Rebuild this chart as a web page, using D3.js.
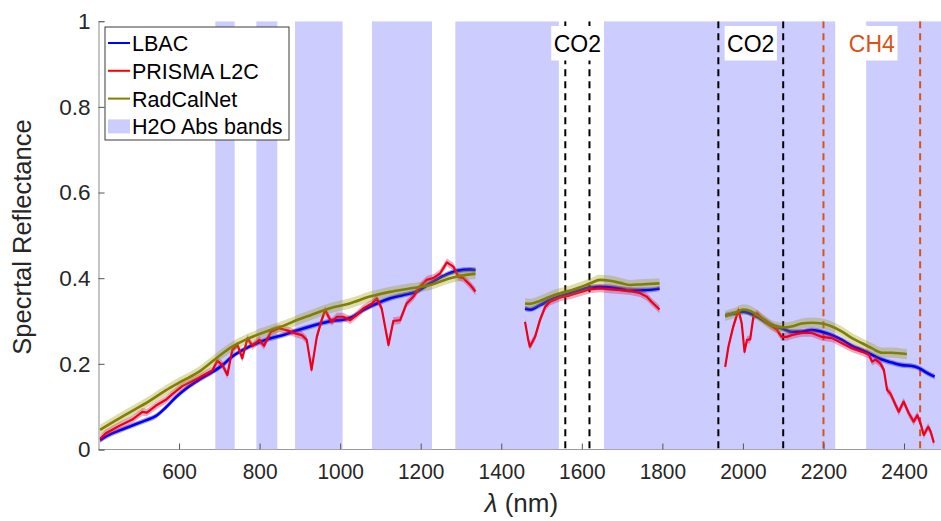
<!DOCTYPE html>
<html>
<head>
<meta charset="utf-8">
<script src="https://cdn.jsdelivr.net/npm/d3@7"></script>
<style>
  html, body { margin: 0; padding: 0; background: #fff; }
  svg { display: block; font-family: "Liberation Sans", Arial, sans-serif; }
</style>
</head>
<body>
<svg id="chart" width="941" height="521"></svg>
<script>
// ---- data -------------------------------------------------------------
// Water-vapour absorption windows [start nm, end nm]
const h2oBands = [[690, 738], [792, 844], [888, 1006], [1079, 1228], [1286, 1543], [1655, 2229], [2306, 2500]];
// Gas absorption markers (pairs of dashed lines) with their labels
const gasLines = [
  { label: "CO2", lo: 1559, hi: 1619, color: "#000000" },
  { label: "CO2", lo: 1939, hi: 2100, color: "#000000" },
  { label: "CH4", lo: 2200, hi: 2440, color: "#D95319" }
];
const xTicks = [600, 800, 1000, 1200, 1400, 1600, 1800, 2000, 2200, 2400];
const yTicks = [0, 0.2, 0.4, 0.6, 0.8, 1];

// LBAC reflectance, three spectral segments [nm, reflectance]
const lbacSeg1 = [[404,0.022],[426,0.034],[451,0.044],[484,0.056],[517,0.068],[542,0.078],[567,0.098],[592,0.122],[617,0.142],[650,0.163],[683,0.181],[708,0.197],[732,0.217],[774,0.240],[815,0.256],[857,0.267],[890,0.277],[925,0.287],[959,0.296],[983,0.301],[1008,0.303],[1033,0.311],[1058,0.326],[1091,0.341],[1124,0.353],[1157,0.361],[1190,0.369],[1223,0.388],[1256,0.405],[1290,0.417],[1323,0.420],[1336,0.419]];
const lbacSeg2 = [[1459,0.329],[1471,0.327],[1496,0.337],[1521,0.349],[1546,0.358],[1571,0.365],[1596,0.372],[1621,0.379],[1645,0.380],[1670,0.379],[1695,0.376],[1720,0.372],[1753,0.372],[1793,0.376]];
const lbacSeg3 = [[1956,0.313],[1980,0.318],[2001,0.322],[2022,0.316],[2047,0.304],[2072,0.290],[2096,0.283],[2121,0.275],[2146,0.275],[2171,0.279],[2196,0.275],[2221,0.267],[2246,0.256],[2271,0.242],[2296,0.232],[2321,0.221],[2345,0.210],[2370,0.203],[2395,0.197],[2420,0.195],[2437,0.190],[2457,0.179],[2476,0.170]];

// PRISMA L2C reflectance
const prismaSeg1 = [[404,0.025],[418,0.038],[451,0.055],[484,0.070],[509,0.088],[520,0.086],[542,0.102],[567,0.116],[584,0.130],[608,0.148],[650,0.168],[683,0.185],[695,0.207],[708,0.197],[720,0.174],[732,0.232],[745,0.244],[757,0.213],[770,0.260],[782,0.242],[799,0.256],[811,0.242],[828,0.275],[848,0.283],[873,0.277],[888,0.271],[905,0.267],[917,0.256],[929,0.186],[942,0.263],[954,0.302],[963,0.326],[971,0.310],[979,0.298],[992,0.310],[1008,0.310],[1025,0.302],[1041,0.314],[1058,0.330],[1079,0.341],[1091,0.353],[1103,0.330],[1120,0.244],[1132,0.300],[1149,0.302],[1165,0.341],[1182,0.357],[1198,0.380],[1215,0.396],[1231,0.400],[1248,0.411],[1265,0.437],[1281,0.427],[1294,0.403],[1306,0.400],[1323,0.384],[1336,0.369]];
const prismaSeg2 = [[1459,0.298],[1467,0.256],[1471,0.240],[1484,0.263],[1496,0.302],[1509,0.333],[1521,0.345],[1546,0.355],[1571,0.360],[1596,0.367],[1621,0.374],[1645,0.376],[1670,0.374],[1695,0.372],[1720,0.370],[1745,0.365],[1761,0.357],[1773,0.345],[1793,0.327]];
const prismaSeg3 = [[1956,0.193],[1964,0.240],[1976,0.287],[1989,0.326],[1997,0.295],[2004,0.228],[2010,0.256],[2018,0.257],[2026,0.310],[2035,0.318],[2047,0.306],[2059,0.298],[2072,0.288],[2084,0.280],[2096,0.263],[2109,0.263],[2121,0.267],[2146,0.272],[2171,0.272],[2196,0.263],[2221,0.260],[2246,0.248],[2271,0.236],[2296,0.228],[2313,0.221],[2321,0.205],[2329,0.210],[2341,0.201],[2350,0.186],[2358,0.139],[2366,0.131],[2379,0.104],[2387,0.088],[2399,0.112],[2412,0.084],[2424,0.065],[2433,0.080],[2441,0.061],[2449,0.034],[2460,0.053],[2466,0.042],[2474,0.016]];

// RadCalNet reflectance
const radcalSeg1 = [[404,0.046],[443,0.068],[484,0.090],[526,0.113],[567,0.138],[608,0.160],[650,0.182],[691,0.212],[732,0.240],[774,0.260],[815,0.275],[857,0.288],[898,0.304],[925,0.313],[975,0.330],[1024,0.341],[1074,0.357],[1124,0.368],[1173,0.376],[1223,0.384],[1273,0.400],[1306,0.407],[1336,0.410]];
const radcalSeg2 = [[1459,0.341],[1471,0.340],[1496,0.347],[1521,0.357],[1546,0.365],[1571,0.371],[1596,0.379],[1621,0.388],[1645,0.396],[1670,0.394],[1695,0.389],[1720,0.384],[1753,0.386],[1793,0.388]];
const radcalSeg3 = [[1956,0.312],[1980,0.319],[2001,0.327],[2022,0.322],[2047,0.306],[2072,0.290],[2096,0.285],[2121,0.287],[2146,0.294],[2171,0.296],[2196,0.294],[2221,0.287],[2246,0.275],[2271,0.260],[2296,0.248],[2321,0.236],[2345,0.226],[2370,0.226],[2395,0.224],[2407,0.223]];

// Uncertainty half-widths (reflectance units)
const lbacUnc = 0.006, prismaUnc = 0.009, radcalUnc = 0.012;

// ---- series table (draw order: LBAC, PRISMA, RadCalNet) --------------
const series = [
  { name: "LBAC", color: "#0000ff", fill: "rgba(30,30,150,0.4)", width: 2.6, unc: lbacUnc, segs: [lbacSeg1, lbacSeg2, lbacSeg3], curve: d3.curveMonotoneX },
  { name: "PRISMA L2C", color: "#f00018", fill: "rgba(200,20,80,0.35)", width: 2.2, unc: prismaUnc, segs: [prismaSeg1, prismaSeg2, prismaSeg3], curve: d3.curveLinear },
  { name: "RadCalNet", color: "#808000", fill: "rgba(150,150,10,0.32)", width: 2.6, unc: radcalUnc, segs: [radcalSeg1, radcalSeg2, radcalSeg3], curve: d3.curveMonotoneX }
];

// ---- layout -----------------------------------------------------------
const svg = d3.select("#chart");
const plotLeft = 98.5, plotRight = 944.3, plotTop = 21.2, plotBottom = 449.5;
const x = d3.scaleLinear().domain([400, 2500]).range([plotLeft, plotRight]);
const y = d3.scaleLinear().domain([0, 1]).range([plotBottom, plotTop]);
const axisColor = "#262626";

svg.append("defs").append("clipPath").attr("id", "plotClip")
  .append("rect").attr("x", plotLeft).attr("y", plotTop)
  .attr("width", plotRight - plotLeft).attr("height", plotBottom - plotTop);

// bottom axis line sits beneath the absorption bands
svg.append("line").attr("x1", plotLeft).attr("x2", plotRight).attr("y1", plotBottom).attr("y2", plotBottom)
  .attr("stroke", "#9a9a9a").attr("stroke-width", 1);

const plot = svg.append("g").attr("clip-path", "url(#plotClip)");

// H2O absorption bands
plot.selectAll("rect.h2o").data(h2oBands).join("rect")
  .attr("class", "h2o")
  .attr("x", d => x(d[0])).attr("width", d => x(d[1]) - x(d[0]))
  .attr("y", plotTop).attr("height", plotBottom - plotTop)
  .attr("fill", "#ccccff");

// gas marker dashed lines
gasLines.forEach(g => {
  [g.lo, g.hi].forEach(v => {
    plot.append("line")
      .attr("x1", x(v)).attr("x2", x(v)).attr("y1", plotTop).attr("y2", plotBottom)
      .attr("stroke", g.color).attr("stroke-width", 2).attr("stroke-dasharray", "7,5");
  });
});

// reflectance series: uncertainty envelope then the mean line
const area = (curve, unc) => d3.area().curve(curve)
  .x(d => x(d[0])).y0(d => y(d[1] - unc)).y1(d => y(d[1] + unc));
const line = curve => d3.line().curve(curve).x(d => x(d[0])).y(d => y(d[1]));

series.forEach(s => {
  const g = plot.append("g");
  s.segs.forEach(seg => {
    g.append("path").attr("d", area(s.curve, s.unc)(seg)).attr("fill", s.fill).attr("stroke", "none");
  });
  s.segs.forEach(seg => {
    g.append("path").attr("d", line(s.curve)(seg)).attr("fill", "none")
      .attr("stroke", s.color).attr("stroke-width", s.width).attr("stroke-linejoin", "round");
  });
});

// gas labels on white boxes
gasLines.forEach(g => {
  const cx = (x(g.lo) + x(g.hi)) / 2;
  const t = svg.append("text").attr("x", cx).attr("y", 52)
    .attr("text-anchor", "middle").attr("font-size", 23).attr("fill", g.color)
    .text(g.label);
  const bb = t.node().getBBox();
  svg.insert("rect", () => t.node())
    .attr("x", bb.x - 2.5).attr("y", 26).attr("width", bb.width + 5).attr("height", 34.5)
    .attr("fill", "#fff");
});

// axes
const xAxis = svg.append("g").attr("transform", `translate(0,${plotBottom})`)
  .call(d3.axisBottom(x).tickValues(xTicks).tickSize(-6).tickPadding(14).tickFormat(d3.format("d")));
xAxis.select(".domain").remove();
xAxis.selectAll(".tick line").attr("stroke", "#555");
xAxis.selectAll("text").attr("font-size", 22).attr("fill", axisColor)
  .attr("transform", "scale(0.95,1)");

const yAxis = svg.append("g").attr("transform", `translate(${plotLeft},0)`)
  .call(d3.axisLeft(y).tickValues(yTicks).tickSize(-6).tickPadding(8)
    .tickFormat(d => d === 0 || d === 1 ? d3.format("d")(d) : d3.format(".1f")(d)));
yAxis.select(".domain").attr("stroke", "#8a8a8a");
yAxis.selectAll(".tick line").attr("stroke", "#555");
yAxis.selectAll("text").attr("font-size", 22.5).attr("fill", axisColor);

// axis titles
svg.append("text").attr("transform", "translate(31,237) rotate(-90)")
  .attr("text-anchor", "middle").attr("font-size", 25.5).attr("fill", axisColor)
  .text("Specrtal Reflectance");
const xl = svg.append("text").attr("x", (plotLeft + plotRight) / 2).attr("y", 512)
  .attr("text-anchor", "middle").attr("font-size", 26).attr("fill", axisColor);
xl.append("tspan").attr("font-style", "italic").text("λ");
xl.append("tspan").text(" (nm)");

// legend
const lg = svg.append("g").attr("transform", "translate(105,27)");
lg.append("rect").attr("width", 184).attr("height", 113).attr("fill", "#fff")
  .attr("stroke", "#3a3a3a").attr("stroke-width", 1);
const legendItems = [
  { name: "LBAC", color: "#0000ff", type: "line" },
  { name: "PRISMA L2C", color: "#ff0000", type: "line" },
  { name: "RadCalNet", color: "#808000", type: "line" },
  { name: "H2O Abs bands", color: "#ccccff", type: "patch" }
];
legendItems.forEach((d, i) => {
  const cy = 16 + i * 27.8;
  if (d.type === "line") {
    lg.append("line").attr("x1", 3).attr("x2", 25).attr("y1", cy).attr("y2", cy)
      .attr("stroke", d.color).attr("stroke-width", 2);
  } else {
    lg.append("rect").attr("x", 3).attr("y", cy - 7).attr("width", 22).attr("height", 14).attr("fill", d.color);
  }
  lg.append("text").attr("x", 27).attr("y", cy + 8).attr("font-size", 21.5).attr("fill", "#000").text(d.name);
});
</script>
</body>
</html>
